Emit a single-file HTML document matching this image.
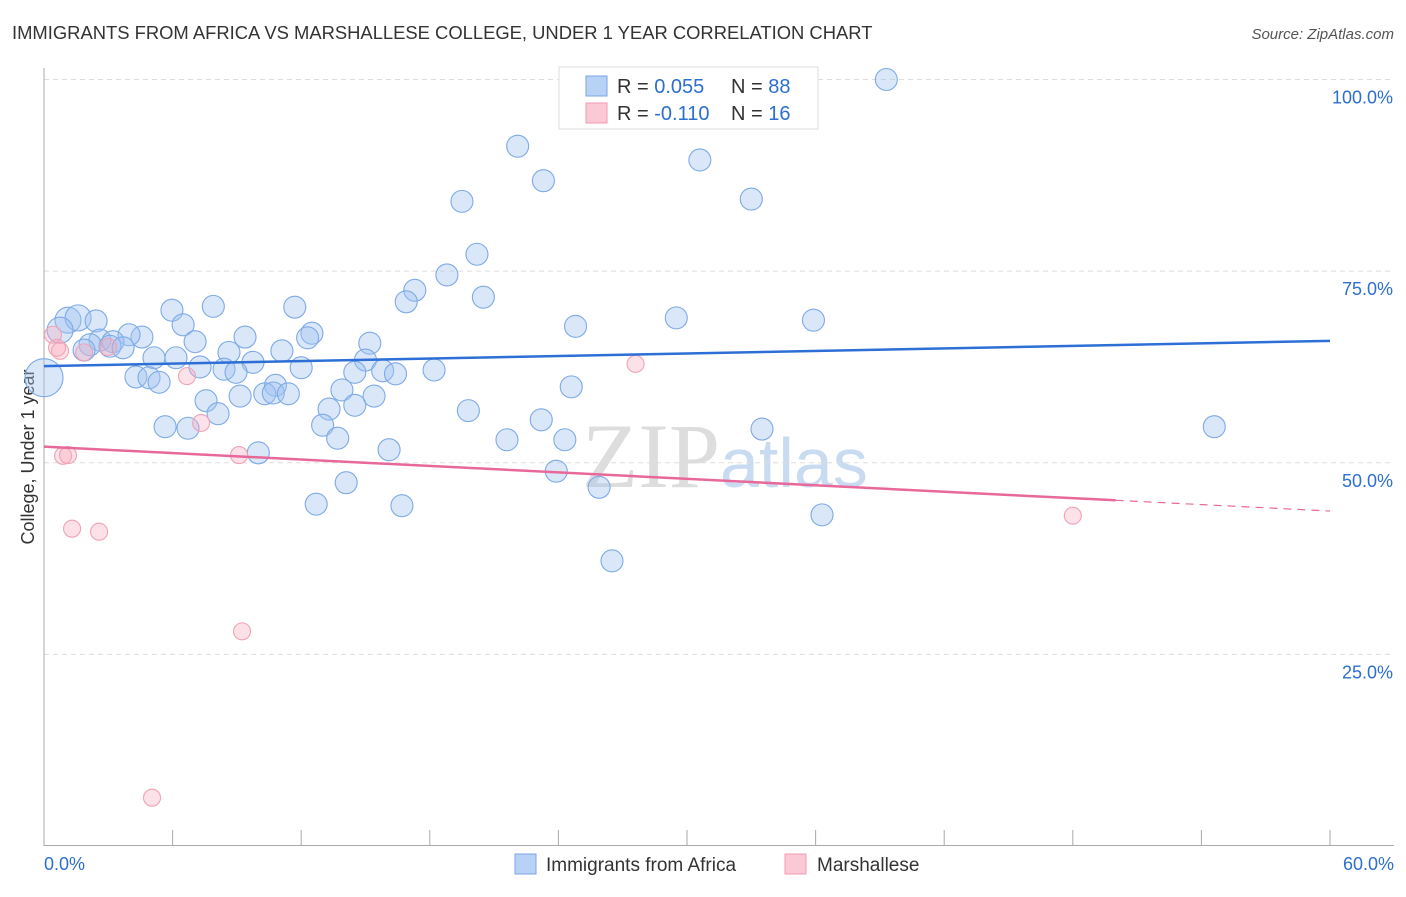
<!DOCTYPE html>
<html><head><meta charset="utf-8"><style>
body{margin:0;background:#fff;font-family:"Liberation Sans",sans-serif}
</style></head><body>
<svg width="1406" height="892" xmlns="http://www.w3.org/2000/svg" id="svg">
<text x="12" y="39" font-size="18.4" fill="#333">IMMIGRANTS FROM AFRICA VS MARSHALLESE COLLEGE, UNDER 1 YEAR CORRELATION CHART</text>
<text x="1394" y="39" font-size="15" fill="#555" font-style="italic" text-anchor="end">Source: ZipAtlas.com</text>
<text x="720" y="487" font-size="92" fill="#ddd" text-anchor="end" font-family="Liberation Serif">ZIP</text>
<text x="720" y="487" font-size="70" fill="#c9dbf0">atlas</text>
<g id="grid"></g>
<line x1="44" y1="68" x2="44" y2="846" stroke="#aaa"/>
<line x1="44" y1="845.5" x2="1394" y2="845.5" stroke="#aaa"/>
<text transform="translate(34,457) rotate(-90)" font-size="18" fill="#333" text-anchor="middle">College, Under 1 year</text>
<g id="pts"></g>
<g id="lines"></g>
<g>
<rect x="559" y="67" width="259" height="62" fill="#fff" stroke="#ddd"/>
<rect x="586" y="76" width="21" height="20" fill="#b8d2f5" stroke="#7aa6e6"/>
<rect x="586" y="103" width="21" height="20" fill="#fbc8d6" stroke="#f09ab0"/>
<text x="617" y="93" font-size="20" fill="#333">R = <tspan fill="#2d6fcf">0.055</tspan><tspan x="731">N = </tspan><tspan fill="#2d6fcf">88</tspan></text>
<text x="617" y="120" font-size="20" fill="#333">R = <tspan fill="#2d6fcf">-0.110</tspan><tspan x="731">N = </tspan><tspan fill="#2d6fcf"> 16</tspan></text>
</g>
<g>
<rect x="515" y="854" width="21" height="20" fill="#b8d2f5" stroke="#7aa6e6"/>
<text x="546" y="871" font-size="19" fill="#333">Immigrants from Africa</text>
<rect x="785" y="854" width="21" height="20" fill="#fbc8d6" stroke="#f09ab0"/>
<text x="817" y="871" font-size="19" fill="#333">Marshallese</text>
</g>
<text x="44" y="870" font-size="18" fill="#2d6fcf">0.0%</text>
<text x="1394" y="870" font-size="18" fill="#2d6fcf" text-anchor="end">60.0%</text>
</svg>
<script>
const yTicks=[25,50,75,100];
const yTickLabels=["25.0%","50.0%","75.0%","100.0%"];
const blueX=[39.3,22.1,30.6,23.3,19.5,33.0,20.2,18.8,17.3,20.5,16.9,7.9,11.7,5.97,1.12,1.59,2.43,6.49,29.5,35.9,24.8,0.75,12.5,4.57,9.38,12.3,3.97,2.61,3.22,7.05,15.2,2.15,3.08,3.69,1.87,11.1,8.63,5.13,6.16,15.0,9.75,7.28,8.40,8.96,12.0,14.5,15.8,16.4,18.2,4.29,4.90,5.37,10.8,24.6,13.9,9.15,10.3,10.7,11.4,15.4,7.56,14.5,8.12,13.3,19.8,23.2,5.65,6.72,13.0,33.5,54.6,13.7,21.6,24.3,16.1,10.0,23.9,14.1,25.9,12.7,16.7,36.3,26.5,0];
const blueY=[100,91.3,89.5,86.8,84.1,84.4,77.2,74.5,72.5,71.6,71.0,70.4,70.3,69.9,68.6,68.9,68.5,68.0,68.9,68.6,67.8,67.3,66.9,66.4,66.4,66.3,66.7,66.0,65.8,65.8,65.6,65.4,65.2,65.0,64.7,64.6,64.4,63.7,63.7,63.4,63.1,62.5,62.2,61.8,62.4,61.8,62.0,61.6,62.1,61.2,61.1,60.5,60.1,59.9,59.5,58.7,59.0,59.1,59.0,58.7,58.1,57.5,56.4,57.0,56.8,55.6,54.7,54.5,54.9,54.4,54.7,53.2,53.0,53.0,51.7,51.3,48.9,47.4,46.8,44.6,44.4,43.2,37.2,61.1];
const pinkX=[0.42,0.61,0.75,2.99,1.87,6.67,7.33,27.6,0.89,1.12,9.10,1.31,2.57,9.24,5.04,48.0];
const pinkY=[66.7,65.0,64.6,65.1,64.4,61.3,55.2,62.9,50.9,51.0,51.0,41.4,41.0,28.0,6.3,43.1];
const blueTrend=[62.6,65.9];
const pinkTrend=[52.1,43.7];
const pinkSolidEnd=50;
const NS="http://www.w3.org/2000/svg";
const X=v=>44+v/60*1286, Y=v=>846-v*7.665;
function mk(tag,attrs,parent){const e=document.createElementNS(NS,tag);for(const k in attrs)e.setAttribute(k,attrs[k]);parent.appendChild(e);return e;}
const grid=document.getElementById('grid');
yTicks.forEach((t,i)=>{
 const l=mk('line',{x1:44,x2:1394,y1:Y(t),y2:Y(t),stroke:'#ddd','stroke-dasharray':'5,4'},grid);
 
 
 const tx=mk('text',{x:1393,y:Y(t)+24,'font-size':18,fill:'#2d6fcf','text-anchor':'end'},grid);
 tx.textContent=yTickLabels[i];
 
 
});
for(let i=0;i<=10;i++){
 const l=mk('line',{x1:X(i*6),x2:X(i*6),y1:830,y2:846,stroke:'#aaa'},grid);
 
 
}
const pts=document.getElementById('pts');
blueX.forEach((x,i)=>{
 let r=11; if(x<1.7&&blueY[i]>66)r=13; if(x===0)r=19;
 const c=mk('circle',{cx:X(x),cy:Y(blueY[i]),r:r,fill:'rgba(160,196,240,0.4)',stroke:'#7eaae6','stroke-width':1.1},pts);
 
 
});
pinkX.forEach((x,i)=>{
 const c=mk('circle',{cx:X(x),cy:Y(pinkY[i]),r:8.5,fill:'rgba(245,170,190,0.35)',stroke:'#f0a2b6','stroke-width':1.1},pts);
 
 
});
const lines=document.getElementById('lines');
const bl=mk('line',{x1:X(0),y1:Y(blueTrend[0]),x2:X(60),y2:Y(blueTrend[1]),stroke:'#2d6fd6','stroke-width':2.5},lines);


const pm=pinkTrend[0]+(pinkTrend[1]-pinkTrend[0])*pinkSolidEnd/60;
const pl=mk('line',{x1:X(0),y1:Y(pinkTrend[0]),x2:X(pinkSolidEnd),y2:Y(pm),stroke:'#e8689a','stroke-width':2.5},lines);


const pd=mk('line',{x1:X(pinkSolidEnd),y1:Y(pm),x2:X(60),y2:Y(pinkTrend[1]),stroke:'#e8689a','stroke-width':1.2,'stroke-dasharray':'8,6'},lines);


</script>
</body></html>
